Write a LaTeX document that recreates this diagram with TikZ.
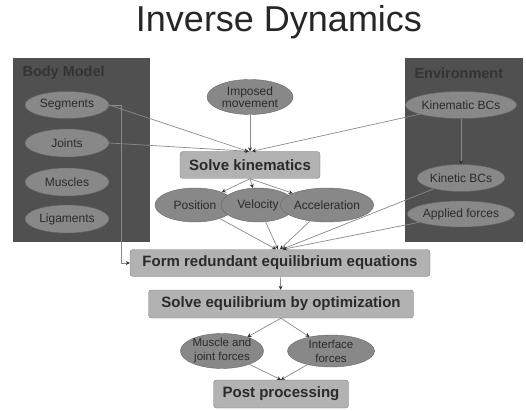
\documentclass[tikz,border=0pt]{standalone}
\usepackage{fontspec}
\setmainfont{Liberation Sans}
\usetikzlibrary{arrows.meta,shapes.geometric}
\definecolor{panelgray}{HTML}{505050}
\definecolor{ovalgray}{HTML}{888888}
\definecolor{boxgray}{HTML}{B2B2B2}
\definecolor{linegray}{HTML}{8A8A8A}
\definecolor{inkgray}{HTML}{2A2A2A}

\begin{document}
\begin{tikzpicture}[x=1pt,y=-1pt,
    oval/.style={ellipse,draw=black!60,fill=ovalgray,text=inkgray,inner sep=0pt,font=\fontsize{12}{13}\selectfont,align=center},
    box/.style={rectangle,rounded corners=3pt,draw=black!50,fill=boxgray,text=inkgray,inner sep=0pt,minimum height=27pt,font=\fontsize{15}{16}\bfseries\selectfont},
    panellabel/.style={anchor=west,text=black!80,font=\fontsize{14.5}{16}\bfseries\selectfont},
    link/.style={draw=linegray,line width=0.7pt,-{Stealth[length=4pt,width=4pt,color=black!80]}}]
    \useasboundingbox (0,0) rectangle (526,411);
    \node[anchor=base,text=black!85,font=\fontsize{36}{40}\selectfont] (t) at (279,32) {Inverse Dynamics};
    \fill[panelgray] (13,58) rectangle (150,242);
    \fill[panelgray] (405,58) rectangle (523,242);
    \node[panellabel] (bm) at (19,73) {Body Model};
    \node[panellabel] (en) at (411,73) {Environment};
    \node[oval,minimum width=84pt,minimum height=27pt] (s) at (67,105) {Segments};
    \node[oval,minimum width=84pt,minimum height=28pt] (j) at (67,143) {Joints};
    \node[oval,minimum width=84pt,minimum height=28pt] (m) at (67,182) {Muscles};
    \node[oval,minimum width=84pt,minimum height=28pt] (l) at (67,219) {Ligaments};
    \node[oval,minimum width=84pt,minimum height=27pt] (k) at (461,105) {Kinematic BCs};
    \node[oval,minimum width=84pt,minimum height=27pt] (kt) at (461,178) {Kinetic BCs};
    \node[oval,minimum width=84pt,minimum height=26pt] (af) at (461,214) {Applied forces};
    \node[oval,minimum width=86pt,minimum height=35pt,font=\fontsize{12}{12.5}\selectfont] (i) at (250,97) {Imposed\\movement};
    \node[box,minimum width=140pt] (sk) at (250,165) {Solve kinematics};
    \node[oval,minimum width=80pt,minimum height=34pt] (p) at (195,205) {Position};
    \node[oval,minimum width=74pt,minimum height=34pt] (v) at (258,205) {Velocity};
    \node[oval,minimum width=86pt,minimum height=34pt] (a) at (327,205) {Acceleration};
    \node[box,minimum width=300pt] (fr) at (280,263) {Form redundant equilibrium equations};
    \node[box,minimum width=265pt,minimum height=28pt] (se) at (281,304) {Solve equilibrium by optimization};
    \node[oval,minimum width=77pt,minimum height=32pt,font=\fontsize{11.5}{14}\selectfont] (mj) at (222,351) {Muscle and\\joint forces};
    \node[oval,minimum width=87pt,minimum height=32pt,font=\fontsize{11.5}{14}\selectfont] (if) at (331,351) {Interface\\forces};
    \node[box,minimum width=135pt,minimum height=28pt] (pp) at (281,394) {Post processing};
    \draw[link] (i) -- (sk.north);
    \draw[link] (s.east) -- ([xshift=-2pt]sk.north);
    \draw[link] (j.east) -- ([xshift=-1pt]sk.north);
    \draw[link] (k) -- ([xshift=2pt]sk.north);
    \draw[link] (k) -- (kt);
    \draw[link] (sk.south) -- (p);
    \draw[link] (sk.south) -- (v);
    \draw[link] (sk.south) -- (a);
    \draw[link] (p) -- ([xshift=-4pt]fr.north);
    \draw[link] (v) -- ([xshift=-2pt]fr.north);
    \draw[link] (a) -- (fr.north);
    \draw[link] (kt) -- ([xshift=2pt]fr.north);
    \draw[link] (af) -- ([xshift=3pt]fr.north);
    \draw[link] (s.east) -- ++(12,0) |- (fr.west);
    \draw[link] (fr) -- (se);
    \draw[link] (se.south) -- (mj);
    \draw[link] (se.south) -- (if);
    \draw[link] (mj) -- (pp.north);
    \draw[link] (if) -- (pp.north);
\end{tikzpicture}
\end{document}
